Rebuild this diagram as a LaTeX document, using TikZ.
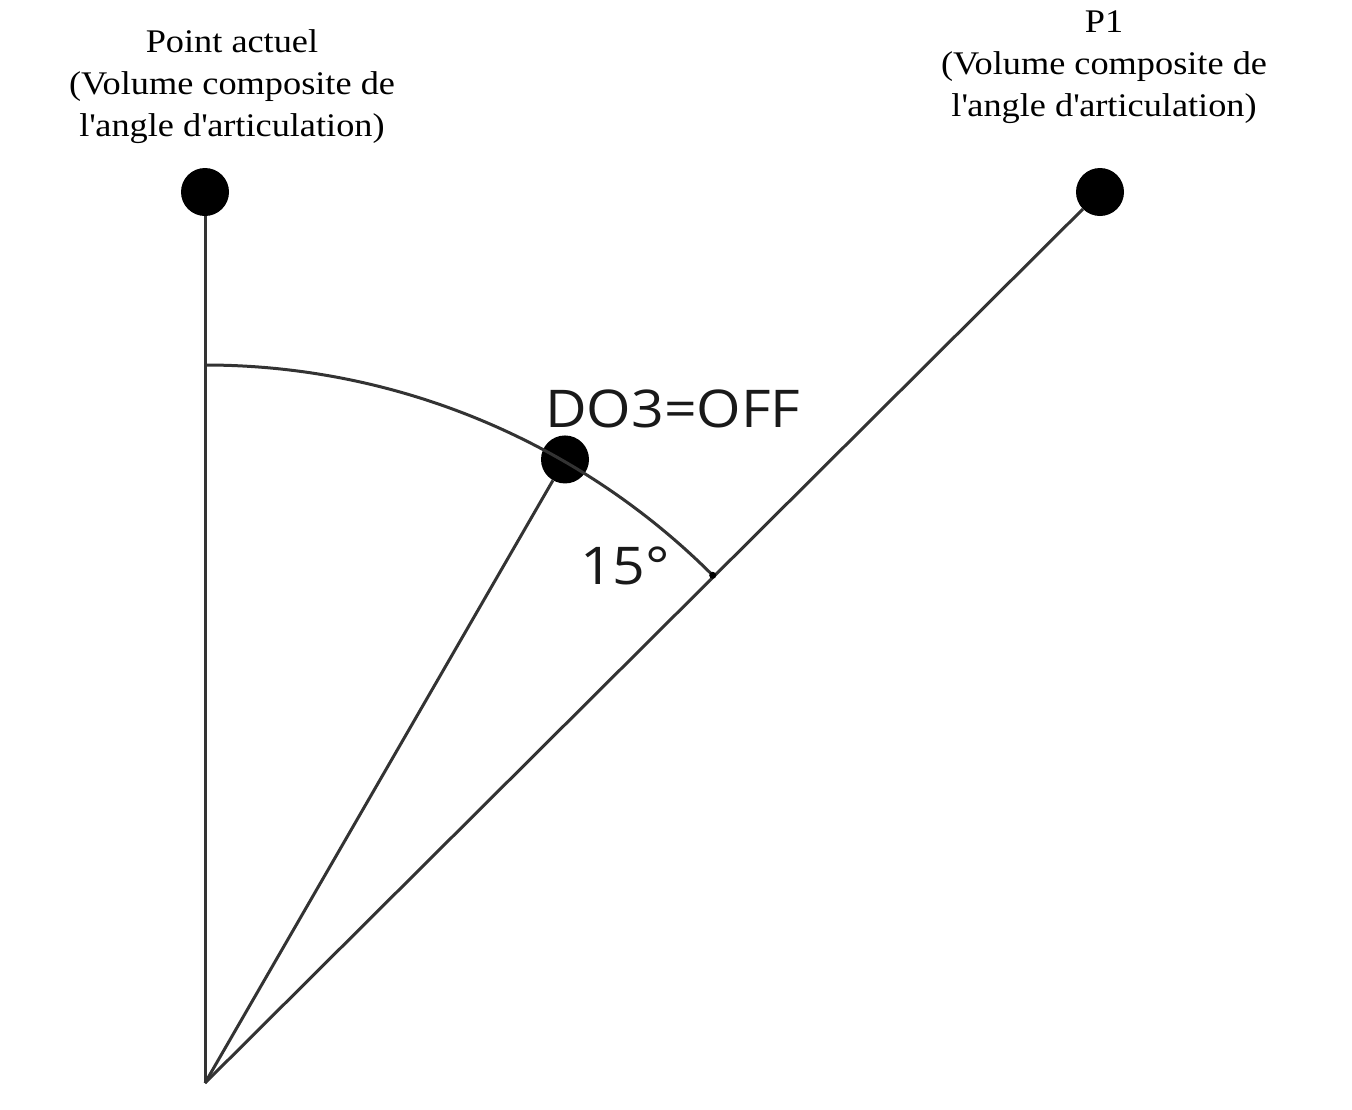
\documentclass[tikz,border=0pt]{standalone}
\usepackage{fontspec}
\usetikzlibrary{calc}
\setmainfont{Liberation Serif}
\newfontfamily\lblfont[FakeStretch=1.1]{Liberation Serif}
\newfontfamily\labsans[FakeStretch=1.1]{Open Sans}
\begin{document}
\begin{tikzpicture}[x=1pt,y=1pt,
  ln/.style={line width=3pt,draw=black!80},
  dot/.style={circle,fill=black,inner sep=0pt,minimum size=48pt},
  lbl/.style={align=center,font=\lblfont\fontsize{33}{42}\selectfont},
  sans/.style={font=\labsans\fontsize{52}{60}\selectfont,inner sep=0pt,text=black!90}]
\useasboundingbox (0,0) rectangle (1352,-1109);
\coordinate (O) at (205,-1083);
\node[dot] (A) at (205,-192) {};
\node[dot] (P) at (1100,-192) {};
\node[dot] (D) at ($(O)+(60:720)$) {};
\coordinate (T) at ($(O)+(45:718)$);
\draw[ln] (O) -- (A);
\draw[ln] (O) -- (P);
\draw[ln] (O) -- (D);
\draw[ln] ($(O)+(90:718)$) arc[start angle=90,end angle=45,radius=718];
\fill (T) circle (3.5pt);
\node[lbl] (la) at (232,-87) {Point actuel\\(Volume composite de\\l\textquotesingle angle d\textquotesingle articulation)};
\node[lbl] (lp) at (1104,-67) {P1\\(Volume composite de\\l\textquotesingle angle d\textquotesingle articulation)};
\node[sans,anchor=base west] (d3) at (545,-427) {DO3=OFF};
\node[sans,anchor=base west] (ang) at (580,-584) {15°};
\end{tikzpicture}
\end{document}
